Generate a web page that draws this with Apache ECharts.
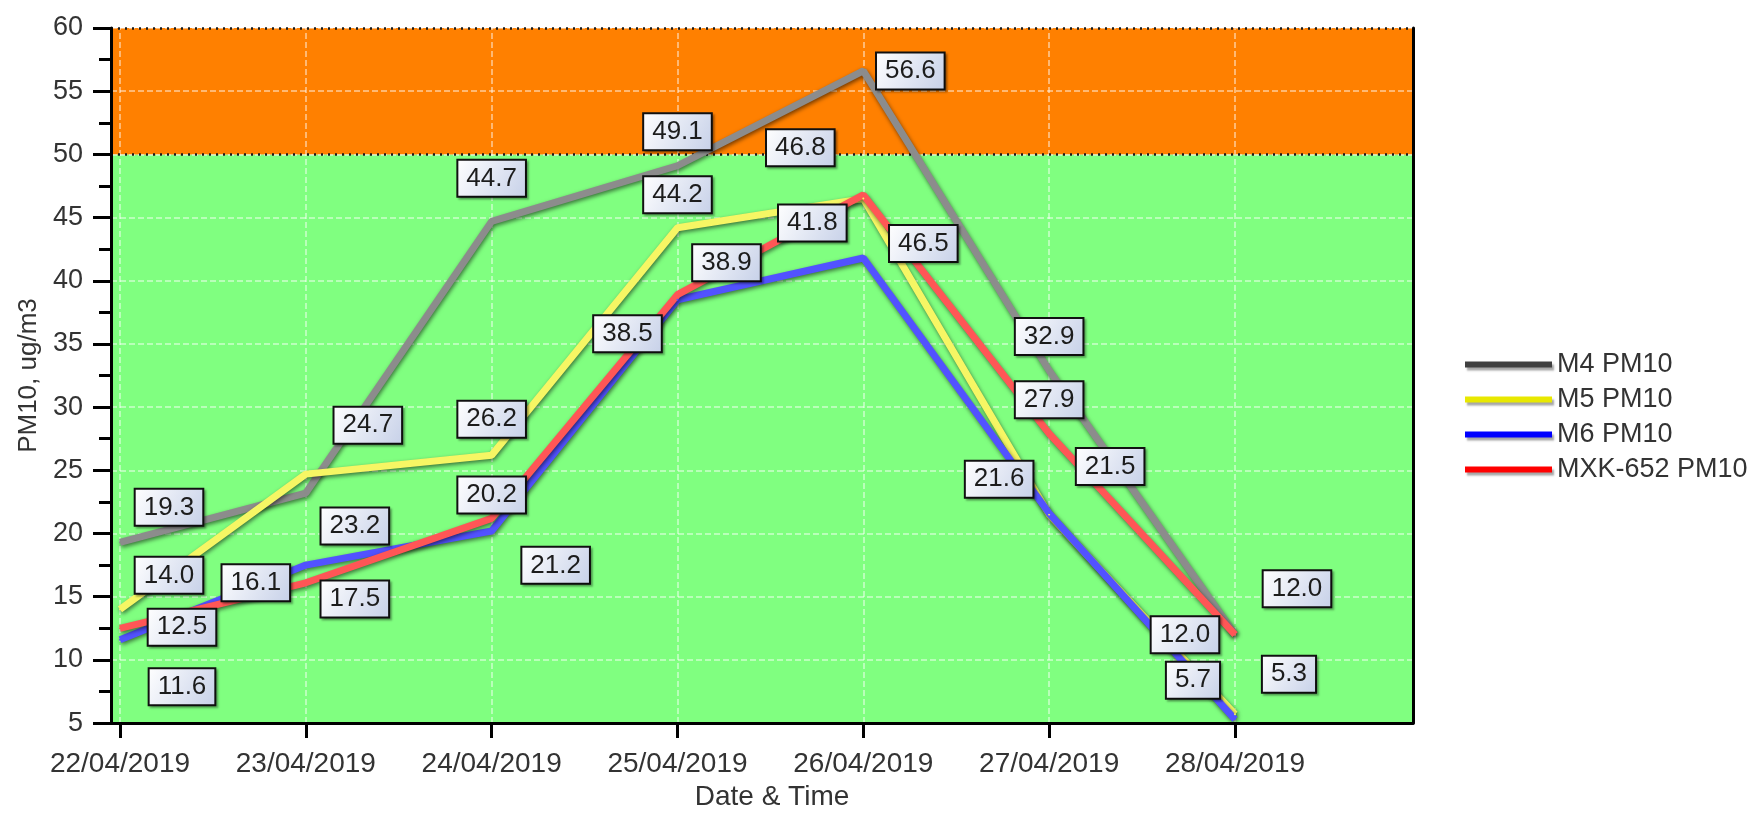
<!DOCTYPE html>
<html>
<head>
<meta charset="utf-8">
<title>PM10</title>
<script src="https://cdn.jsdelivr.net/npm/echarts@6/dist/echarts.min.js"></script>
<style>
    html, body { margin: 0; padding: 0; background: #fff; }
    #chart { width: 1754px; height: 816px; }
</style>
</head>
<body>
<div id="chart"></div>
<script>
    // dates on the x axis
    var dates = ['22/04/2019', '23/04/2019', '24/04/2019', '25/04/2019', '26/04/2019', '27/04/2019', '28/04/2019'];

    // PM10 values, ug/m3
    var m4 = [19.3, 23.2, 44.7, 49.1, 56.6, 32.9, 12.0];
    var m5 = [14.0, 24.7, 26.2, 44.2, 46.5, 21.5, 5.7];
    var m6 = [11.6, 17.5, 20.2, 38.5, 41.8, 21.6, 5.3];
    var mxk = [12.5, 16.1, 21.2, 38.9, 46.8, 27.9, 12.0];

    var seriesNames = ['M4 PM10', 'M5 PM10', 'M6 PM10', 'MXK-652 PM10'];

    // y axis ticks and the two background bands (limits)
    var yMin = 5, yMax = 60, yStep = 5;
    var limitValue = 50;

    // where each value box sits relative to its point (px)
    var m4LabelOff = [[49, -35], [49, 33], [0, -43], [0, -34], [47, 0], [0, -34], [62, -46]];
    var m5LabelOff = [[49, -34], [62, -49], [0, -36], [0, -33], [60, 45], [61, -48], [-42, -34]];
    var m6LabelOff = [[62, 47], [49, 34], [0, -36], [-50, 34], [-51, -35], [-50, -34], [54, -45]];
    var mxkLabelOff = [[62, -1], [-50, 0], [64, 47], [49, -32], [-63, -47], [0, -34], [-50, 0]];

    var font = 'Liberation Sans';
    var lineColors = ['#8c8c8c', '#f6f664', '#5252ff', '#ff5656'];
    var legendColors = ['#404040', '#e8e800', '#0000ff', '#ff0000'];

    var dateIdx = dates.map(function (d, i) { return i; });

    function pointData(values, offsets) {
        return values.map(function (v, i) {
            return { value: [i, v], label: { offset: offsets[i] } };
        });
    }

    function lineSeries(name, values, offsets, color) {
        return {
            name: name,
            type: 'line',
            z: 2,
            symbol: 'circle',
            symbolSize: 2,
            itemStyle: { color: color },
            lineStyle: {
                color: color,
                width: 7,
                shadowColor: 'rgba(0,0,0,0.55)',
                shadowBlur: 4,
                shadowOffsetX: 1,
                shadowOffsetY: 2
            },
            label: {
                show: true,
                position: 'inside',
                formatter: function (p) { return p.value[1].toFixed(1); },
                fontFamily: font,
                fontSize: 26,
                lineHeight: 30,
                color: '#1c1c1c',
                backgroundColor: {
                    type: 'linear', x: 0, y: 0, x2: 1, y2: 1,
                    colorStops: [{ offset: 0, color: '#ffffff' }, { offset: 1, color: '#c6d0e8' }]
                },
                borderColor: '#111',
                borderWidth: 2,
                padding: [3, 8, 2, 8],
                shadowColor: 'rgba(0,0,0,0.3)',
                shadowBlur: 2,
                shadowOffsetX: 2,
                shadowOffsetY: 2
            },
            data: pointData(values, offsets)
        };
    }

    var chart = echarts.init(document.getElementById('chart'));

    var option = {
        animation: false,
        backgroundColor: '#ffffff',
        grid: { left: 111, right: 341, top: 28, bottom: 91 },
        legend: {
            orient: 'vertical',
            left: 1460,
            top: 345,
            itemWidth: 87,
            itemHeight: 6,
            itemGap: 6,
            icon: 'rect',
            textStyle: { fontFamily: font, fontSize: 27, lineHeight: 29, color: '#333' },
            data: seriesNames.map(function (n, i) {
                return {
                    name: n,
                    itemStyle: {
                        color: legendColors[i],
                        shadowColor: 'rgba(0,0,0,0.35)',
                        shadowBlur: 2,
                        shadowOffsetX: 2,
                        shadowOffsetY: 3
                    }
                };
            })
        },
        xAxis: {
            type: 'value',
            min: -0.0484,
            max: 6.958,
            z: 1,
            name: 'Date & Time',
            nameLocation: 'middle',
            nameGap: 59,
            nameTextStyle: { fontFamily: font, fontSize: 28, color: '#333', padding: [0, 0, 0, 20] },
            axisLine: { onZero: false, lineStyle: { color: '#000', width: 3 } },
            axisTick: { customValues: dateIdx, length: 15, lineStyle: { color: '#000', width: 3 } },
            axisLabel: {
                customValues: dateIdx,
                margin: 27,
                fontFamily: font,
                fontSize: 28,
                color: '#333',
                formatter: function (v) { return dates[Math.round(v)]; }
            },
            splitLine: { show: false }
        },
        yAxis: [{
            type: 'value',
            min: yMin,
            max: yMax,
            interval: yStep,
            z: 1,
            name: 'PM10, ug/m3',
            nameLocation: 'middle',
            nameGap: 69,
            nameTextStyle: { fontFamily: font, fontSize: 26, color: '#333' },
            axisLine: { show: true, onZero: false, lineStyle: { color: '#000', width: 3 } },
            axisTick: { show: true, length: 18, lineStyle: { color: '#000', width: 3 } },
            minorTick: { show: true, splitNumber: 2, length: 12, lineStyle: { color: '#000', width: 3 } },
            axisLabel: { margin: 28, fontFamily: font, fontSize: 27, color: '#333' },
            splitLine: { show: true, lineStyle: { color: 'rgba(255,255,255,0.6)', type: 'dashed', width: 1.5 } }
        }, {
            type: 'value',
            min: yMin,
            max: yMax,
            interval: yStep,
            position: 'right',
            z: 3,
            axisLine: { show: true, onZero: false, lineStyle: { color: '#000', width: 3 } },
            axisTick: { show: false },
            axisLabel: { show: false },
            splitLine: { show: false }
        }],
        series: [
            {
                name: 'bands',
                type: 'line',
                z: 0,
                symbol: 'none',
                silent: true,
                lineStyle: { opacity: 0 },
                data: [[0, yMin]],
                markArea: {
                    silent: true,
                    z: 0,
                    data: [
                        [{ yAxis: yMin, itemStyle: { color: '#80ff80' } }, { yAxis: limitValue }],
                        [{ yAxis: limitValue, itemStyle: { color: '#ff8000' } }, { yAxis: yMax }]
                    ]
                }
            },
            {
                name: 'grid-lines',
                type: 'line',
                z: 1,
                symbol: 'none',
                silent: true,
                lineStyle: { opacity: 0 },
                data: [[0, yMin]],
                markLine: {
                    silent: true,
                    z: 1,
                    symbol: 'none',
                    label: { show: false },
                    lineStyle: { color: 'rgba(255,255,255,0.6)', type: 'dashed', width: 1.5 },
                    data: dateIdx.map(function (i) { return { xAxis: i }; }).concat([
                        { yAxis: limitValue, lineStyle: { color: '#1a1a1a', type: [2, 5], width: 2.5 } },
                        { yAxis: yMax, lineStyle: { color: '#1a1a1a', type: [2, 5], width: 2.5 } }
                    ])
                }
            },
            lineSeries(seriesNames[0], m4, m4LabelOff, lineColors[0]),
            lineSeries(seriesNames[1], m5, m5LabelOff, lineColors[1]),
            lineSeries(seriesNames[2], m6, m6LabelOff, lineColors[2]),
            lineSeries(seriesNames[3], mxk, mxkLabelOff, lineColors[3])
        ]
    };

    chart.setOption(option);

    window.addEventListener('resize', function () {
        chart.resize();
    });
</script>
</body>
</html>
